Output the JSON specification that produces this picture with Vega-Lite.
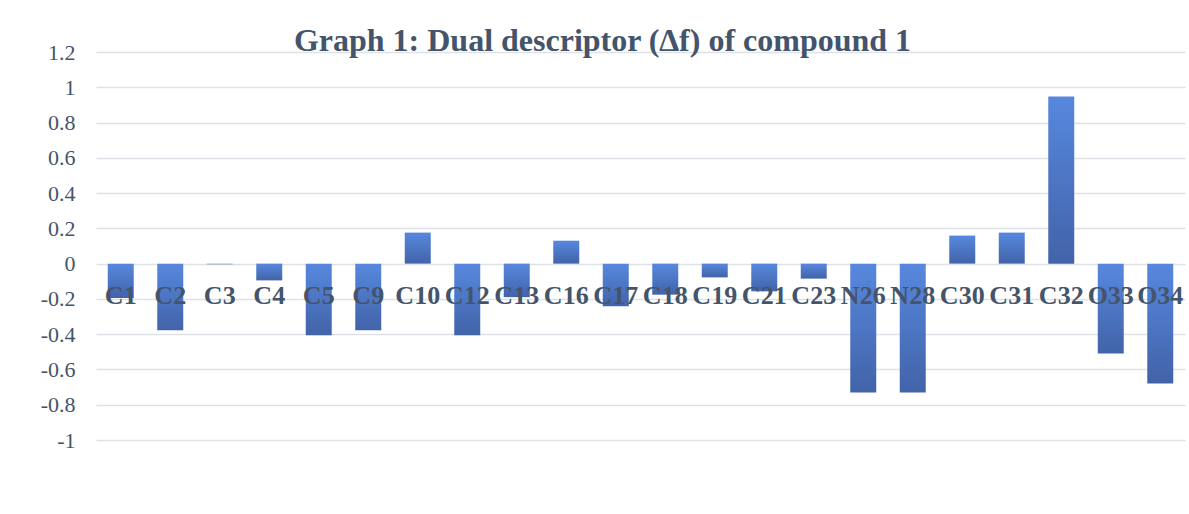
{
  "$schema": "https://vega.github.io/schema/vega-lite/v6.json",
  "autosize": {"type": "none"},
  "width": 1089,
  "height": 388,
  "padding": {"left": 96, "top": 52, "right": 4, "bottom": 74},
  "background": "white",
  "title": {
    "text": "Graph 1: Dual descriptor (∆f) of compound 1",
    "font": "Liberation Serif",
    "fontSize": 32,
    "fontWeight": "bold",
    "color": "#44546a",
    "anchor": "middle",
    "frame": "group",
    "baseline": "alphabetic",
    "dx": -38,
    "offset": -42
  },
  "config": {
    "view": {"stroke": null}
  },
  "data": {
    "values": [
      {"atom": "C1", "df": -0.195},
      {"atom": "C2", "df": -0.378},
      {"atom": "C3", "df": -0.004},
      {"atom": "C4", "df": -0.095},
      {"atom": "C5", "df": -0.406},
      {"atom": "C9", "df": -0.378},
      {"atom": "C10", "df": 0.176},
      {"atom": "C12", "df": -0.406},
      {"atom": "C13", "df": -0.19},
      {"atom": "C16", "df": 0.13},
      {"atom": "C17", "df": -0.242},
      {"atom": "C18", "df": -0.176},
      {"atom": "C19", "df": -0.078},
      {"atom": "C21", "df": -0.157},
      {"atom": "C23", "df": -0.085},
      {"atom": "N26", "df": -0.73},
      {"atom": "N28", "df": -0.73},
      {"atom": "C30", "df": 0.159},
      {"atom": "C31", "df": 0.176},
      {"atom": "C32", "df": 0.947},
      {"atom": "O33", "df": -0.51},
      {"atom": "O34", "df": -0.679}
    ]
  },
  "encoding": {
    "x": {
      "field": "atom",
      "type": "nominal",
      "sort": null,
      "scale": {"paddingInner": 0.475, "paddingOuter": 0.2375},
      "axis": null
    }
  },
  "layer": [
    {
      "mark": {
        "type": "bar",
        "color": {
          "gradient": "linear",
          "x1": 0, "y1": 0, "x2": 0, "y2": 1,
          "stops": [
            {"offset": 0, "color": "#5788de"},
            {"offset": 1, "color": "#4263a8"}
          ]
        }
      },
      "encoding": {
        "y": {
          "field": "df",
          "type": "quantitative",
          "scale": {"domain": [-1, 1.2], "nice": false, "zero": true},
          "axis": {
            "title": null,
            "values": [-1, -0.8, -0.6, -0.4, -0.2, 0, 0.2, 0.4, 0.6, 0.8, 1, 1.2],
            "tickCount": 24,
            "labelExpr": "'' + datum.value",
            "labelOverlap": false,
            "labelBound": false,
            "domain": false,
            "ticks": false,
            "labelPadding": 21,
            "labelFont": "Liberation Serif",
            "labelFontSize": 22,
            "labelColor": "#44546a",
            "grid": true,
            "gridColor": "#dde1e8",
            "gridWidth": 1.5
          }
        }
      }
    },
    {
      "mark": {
        "type": "text",
        "font": "Liberation Serif",
        "fontSize": 26,
        "fontWeight": "bold",
        "color": "#44546a",
        "baseline": "middle",
        "align": "center"
      },
      "encoding": {
        "y": {"datum": -0.184, "type": "quantitative"},
        "text": {"field": "atom"}
      }
    }
  ]
}
